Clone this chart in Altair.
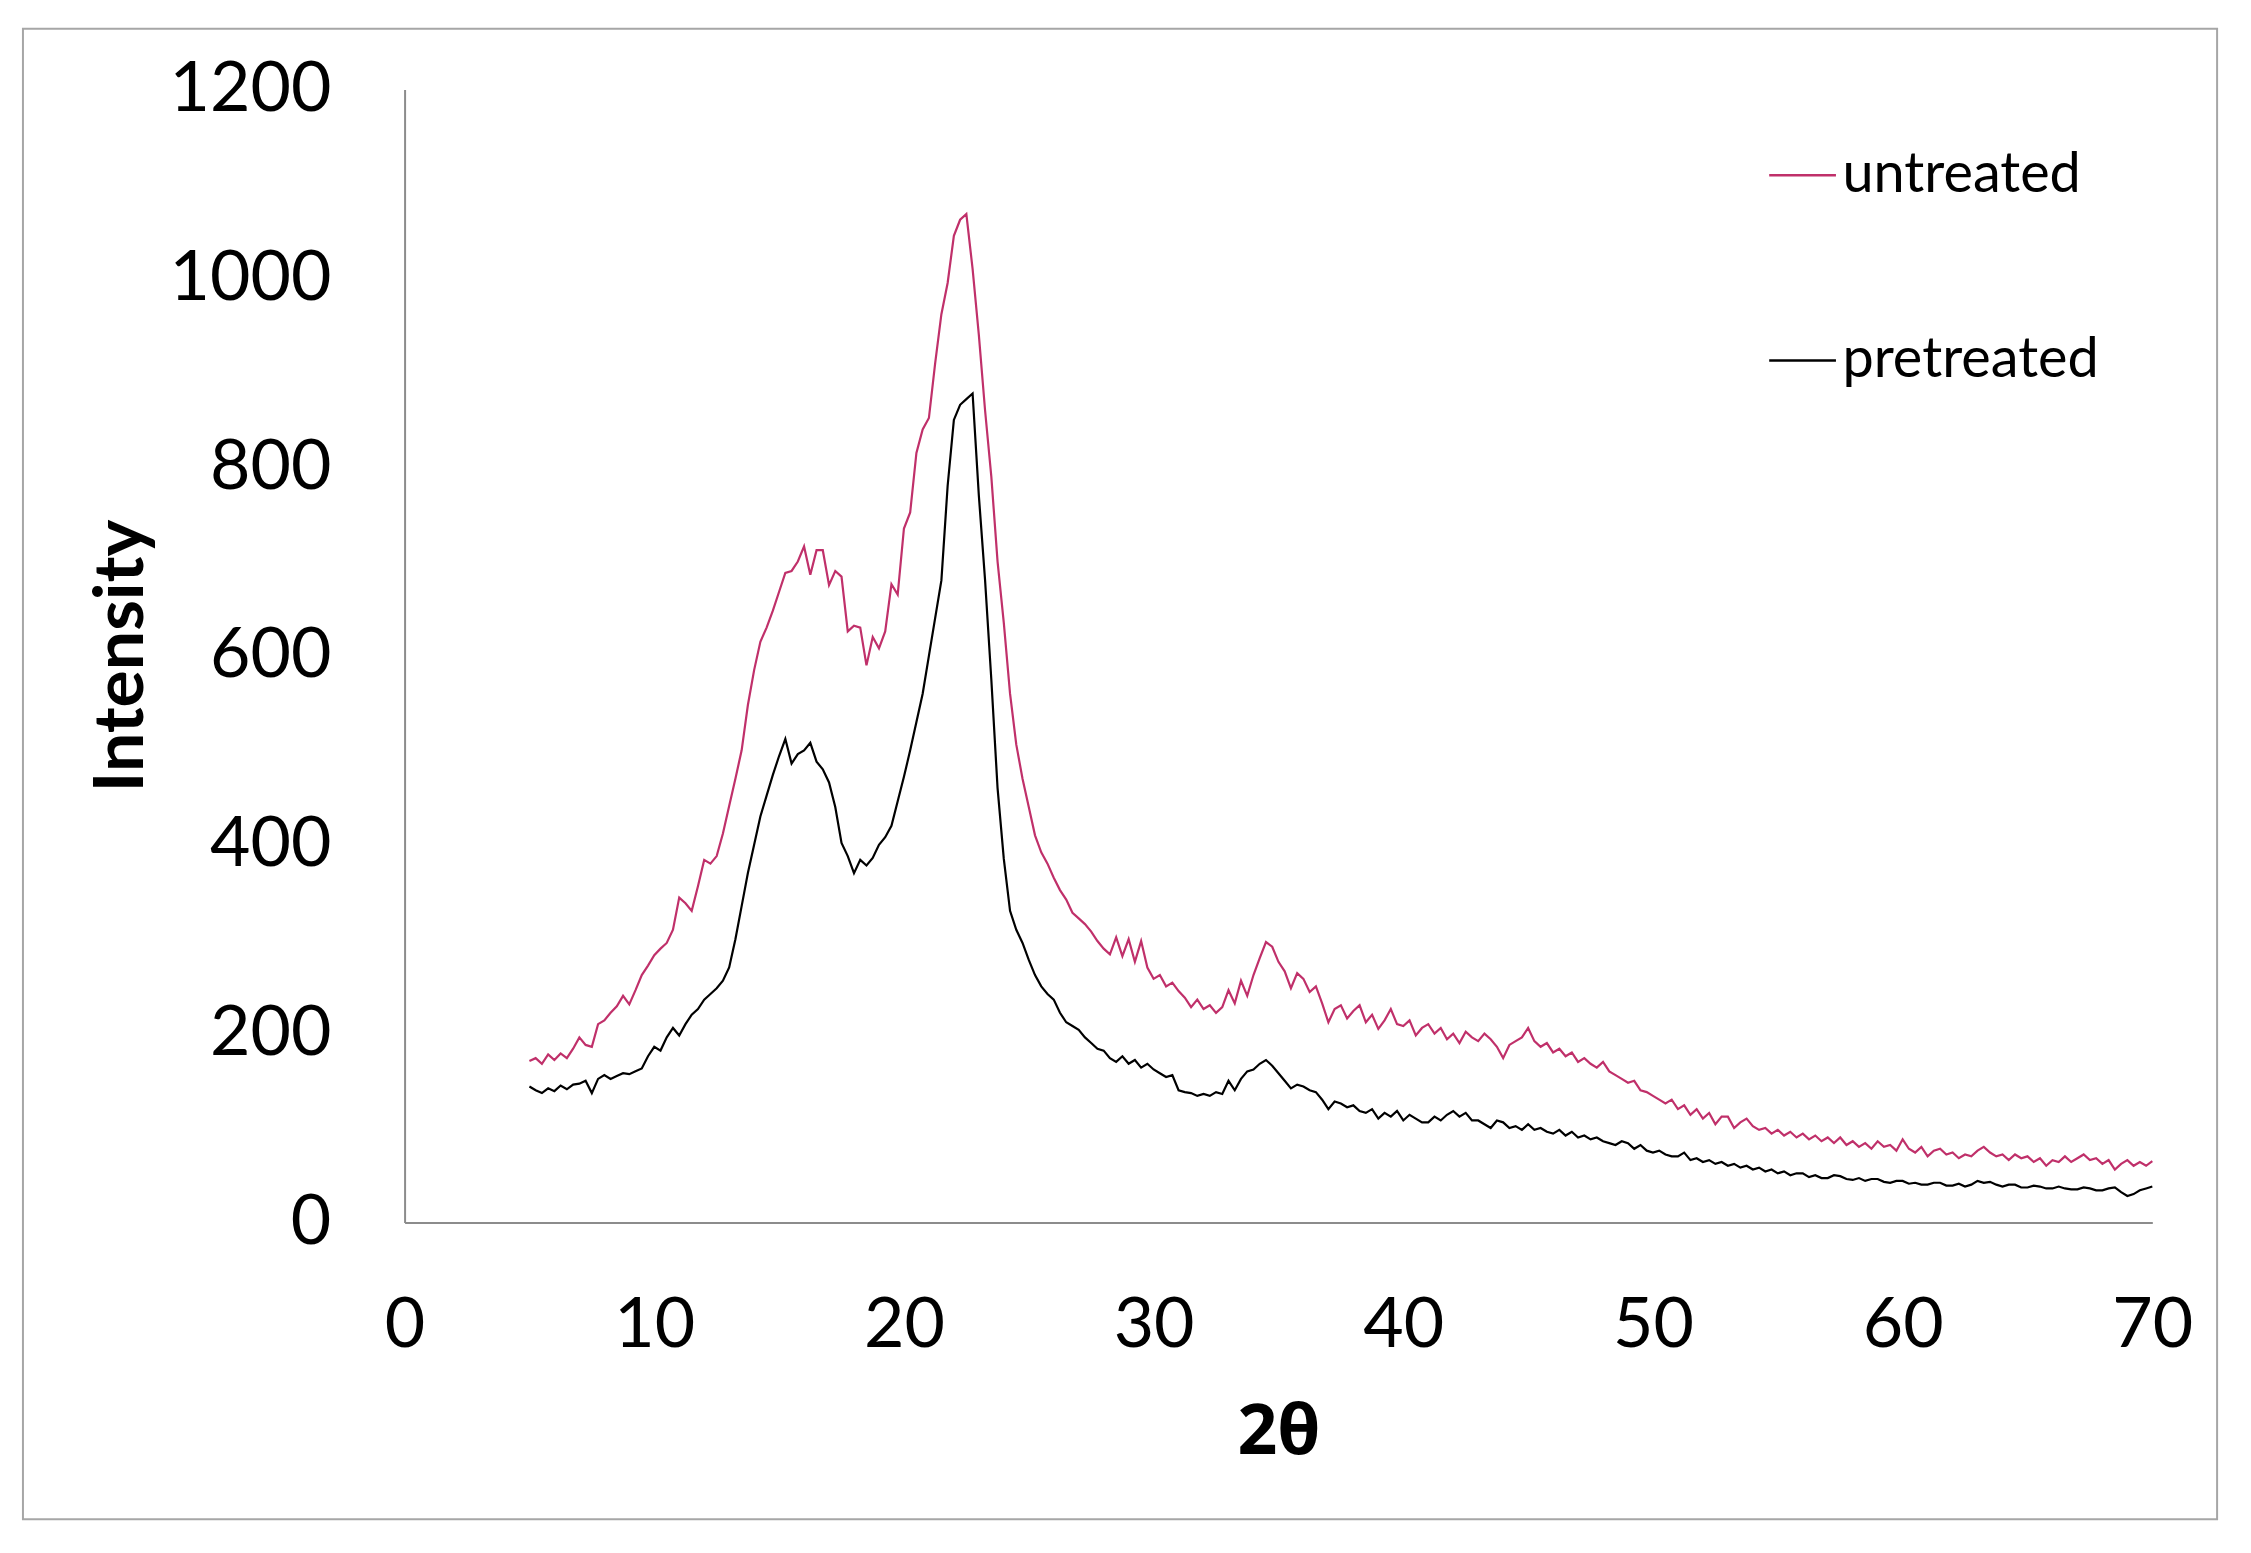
import altair as alt
import pandas as pd

# 2-theta positions (degrees), every 0.25 from 5 to 70
two_theta = [x / 4 for x in range(20, 281)]

# one row per degree: values at .00, .25, .50, .75
untreated = [
    171, 174, 168, 178,
    172, 179, 174, 184,
    196, 188, 186, 210,
    214, 222, 229, 240,
    231, 246, 262, 272,
    283, 290, 296, 310,
    344, 338, 330, 356,
    384, 380, 388, 412,
    441, 470, 500, 548,
    585, 615, 630, 648,
    668, 688, 690, 700,
    716, 686, 712, 712,
    675, 690, 684, 626,
    632, 630, 590, 620,
    608, 626, 676, 665,
    735, 752, 815, 840,
    852, 910, 962, 995,
    1045, 1062, 1068, 1010,
    940, 860, 790, 700,
    635, 560, 506, 470,
    440, 410, 392, 380,
    365, 352, 342, 328,
    322, 316, 308, 298,
    290, 284, 302, 282,
    300, 276, 298, 270,
    258, 262, 250, 254,
    245, 238, 228, 236,
    226, 230, 222, 228,
    246, 232, 256, 240,
    262, 280, 297, 292,
    276, 266, 248, 264,
    258, 244, 250, 232,
    212, 226, 230, 216,
    224, 230, 212, 220,
    205, 214, 226, 210,
    208, 214, 198, 206,
    210, 200, 206, 194,
    200, 190, 202, 196,
    192, 200, 194, 186,
    174, 188, 192, 196,
    206, 192, 186, 190,
    180, 184, 176, 180,
    170, 174, 168, 164,
    170, 160, 156, 152,
    148, 150, 140, 138,
    134, 130, 126, 130,
    120, 124, 114, 120,
    110, 116, 104, 112,
    112, 100, 106, 110,
    102, 98, 100, 94,
    98, 92, 96, 90,
    94, 88, 92, 86,
    90, 84, 90, 82,
    86, 80, 84, 78,
    86, 80, 82, 76,
    88, 78, 74, 80,
    70, 76, 78, 72,
    74, 68, 72, 70,
    76, 80, 74, 70,
    72, 66, 72, 68,
    70, 64, 68, 60,
    66, 64, 70, 64,
    68, 72, 66, 68,
    62, 66, 56, 62,
    66, 60, 64, 60,
    65,
]

pretreated = [
    144, 140, 137, 142,
    139, 145, 141, 146,
    147, 150, 137, 152,
    156, 152, 155, 158,
    157, 160, 163, 176,
    186, 182, 196, 206,
    198, 210, 220, 226,
    236, 242, 248, 256,
    270, 300, 335, 370,
    400, 430, 452, 474,
    494, 512, 486, 496,
    500, 508, 488, 480,
    466, 440, 402, 388,
    370, 384, 378, 386,
    400, 408, 420, 446,
    472, 500, 530, 560,
    600, 640, 680, 780,
    850, 866, 872, 878,
    770, 680, 575, 460,
    385, 330, 310, 296,
    278, 262, 250, 242,
    236, 222, 212, 208,
    204, 196, 190, 184,
    182, 174, 170, 176,
    168, 172, 164, 168,
    162, 158, 154, 156,
    140, 138, 137, 134,
    136, 134, 138, 136,
    150, 140, 152, 160,
    162, 168, 172, 166,
    158, 150, 142, 146,
    144, 140, 138, 130,
    120, 128, 126, 122,
    124, 118, 116, 120,
    110, 116, 112, 118,
    108, 114, 110, 106,
    106, 112, 108, 114,
    118, 112, 116, 108,
    108, 104, 100, 108,
    106, 100, 102, 98,
    104, 98, 100, 96,
    94, 98, 92, 96,
    90, 92, 88, 90,
    86, 84, 82, 86,
    84, 78, 82, 76,
    74, 76, 72, 70,
    70, 74, 66, 68,
    64, 66, 62, 64,
    60, 62, 58, 60,
    56, 58, 54, 56,
    52, 54, 50, 52,
    52, 48, 50, 47,
    47, 50, 49, 46,
    45, 47, 44, 46,
    46, 43, 42, 44,
    44, 41, 42, 40,
    40, 42, 42, 39,
    39, 41, 38, 40,
    44, 42, 43, 40,
    38, 40, 40, 37,
    37, 39, 38, 36,
    36, 38, 36, 35,
    35, 37, 36, 34,
    34, 36, 37, 32,
    28, 30, 34, 36,
    38,
]

series_names = ["untreated", "pretreated"]
series_colors = ["#C0306A", "#000000"]

df = pd.DataFrame({
    "two_theta": two_theta * 2,
    "intensity": untreated + pretreated,
    "sample": [series_names[0]] * len(two_theta) + [series_names[1]] * len(two_theta),
})

lines = alt.Chart(df).mark_line(strokeWidth=2.2).encode(
    x=alt.X("two_theta:Q", title="2θ",
            scale=alt.Scale(domain=[0, 70], nice=False),
            axis=alt.Axis(values=list(range(0, 71, 10)), titleFont="Open Sans",
                          titleY=232, titleBaseline="alphabetic", labelPadding=70,
                          labelFlush=False)),
    y=alt.Y("intensity:Q", title="Intensity",
            scale=alt.Scale(domain=[0, 1200], nice=False),
            axis=alt.Axis(values=list(range(0, 1201, 200)), format="d",
                          titleX=-263, titleY=568, titleBaseline="alphabetic",
                          titleAngle=270, labelPadding=74, labelFlush=False)),
    color=alt.Color("sample:N", sort=series_names,
                    scale=alt.Scale(domain=series_names, range=series_colors),
                    legend=alt.Legend(title=None, orient="none", legendX=1368, legendY=51,
                                      symbolType="stroke", symbolSize=4489,
                                      symbolStrokeWidth=2.5, labelFontSize=56,
                                      labelFont="Lato", labelOffset=5, rowPadding=123,
                                      labelLimit=0, padding=0)),
    order=alt.Order("two_theta:Q"),
)

frame = alt.Chart(pd.DataFrame({"f": [0]})).mark_rect(
    fillOpacity=0, stroke="#a6a6a6", strokeWidth=2
).encode(x=alt.value(-383), x2=alt.value(1819), y=alt.value(-61), y2=alt.value(1435))

chart = alt.layer(frame, lines).properties(
    width=1754, height=1137,
    autosize=alt.AutoSizeParams(type="none"),
    padding={"left": 398, "top": 79, "right": 91, "bottom": 329},
).configure_view(
    stroke=None
).configure_axis(
    grid=False, ticks=False, tickSize=0,
    domainColor="#8c8c8c", domainWidth=2,
    labelFont="Lato", labelFontSize=70, labelColor="#000000",
    titleFont="Lato", titleFontSize=70, titleFontWeight="bold", titleColor="#000000",
)

chart.save("out.html", embed_options={"renderer": "svg", "actions": False})
